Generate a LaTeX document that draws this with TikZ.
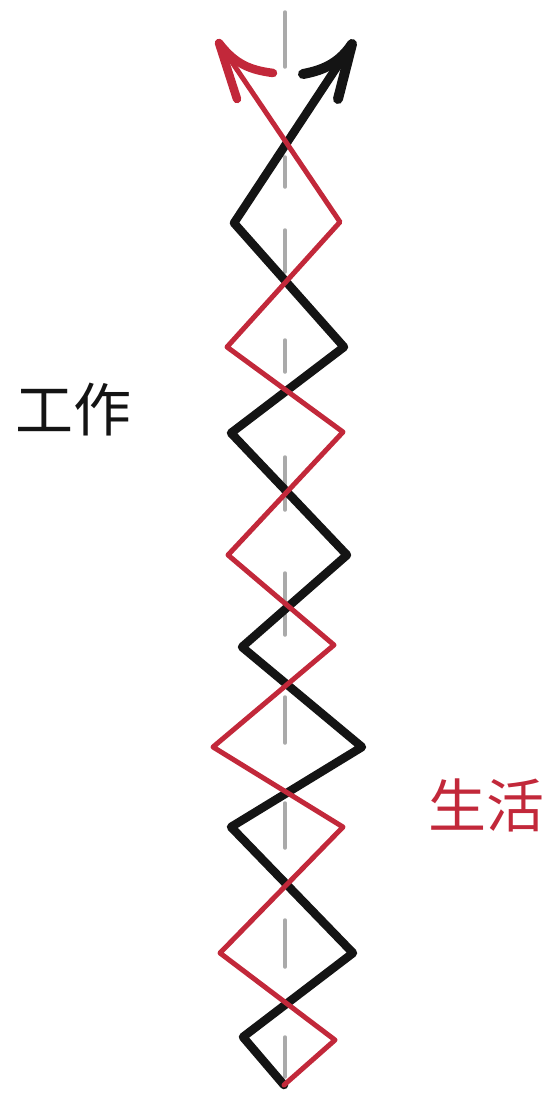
\documentclass[tikz,border=0pt]{standalone}
\usepackage{fontspec}
\newfontfamily\cjk{Noto Sans CJK SC}
\definecolor{lred}{RGB}{194,40,58}
\definecolor{lgray}{RGB}{170,170,170}
\definecolor{lblack}{RGB}{20,20,20}
\begin{document}
\begin{tikzpicture}[x=1pt,y=-1pt,
  blackline/.style={draw=lblack,line width=8.5pt,line join=round,line cap=round},
  redline/.style={draw=lred,line width=5pt,line join=round,line cap=round},
  blackhead/.style={draw=lblack,line width=10pt,line join=round,line cap=round},
  redhead/.style={draw=lred,line width=8.5pt,line join=round,line cap=round},
  axis/.style={draw=lgray,line width=3.5pt,line cap=round},
  label/.style={font=\cjk\fontsize{58}{64}\selectfont,inner sep=0pt}]
\useasboundingbox (0,0) rectangle (551,1095);
% dashed axis
\foreach \a/\b in {12/67,157/187,230/272,340/372,457/510,573/635,697/743,803/848,920/967,1037/1077}
  \draw[axis] (285,\a) -- (285,\b);
% black line vertices
\coordinate (b0) at (284,1085);
\coordinate (b1) at (243,1037);
\coordinate (b2) at (353,953);
\coordinate (b3) at (231,827);
\coordinate (b4) at (362,747);
\coordinate (b5) at (242,647);
\coordinate (b6) at (347,555);
\coordinate (b7) at (231,433);
\coordinate (b8) at (344,347);
\coordinate (b9) at (234,223);
\coordinate (bt) at (352,44);
\coordinate (bl) at (303,74);
\coordinate (bd) at (338,99);
% red line vertices
\coordinate (r0) at (284,1085);
\coordinate (r1) at (335,1040);
\coordinate (r2) at (220,953);
\coordinate (r3) at (343,827);
\coordinate (r4) at (213,747);
\coordinate (r5) at (334,645);
\coordinate (r6) at (228,555);
\coordinate (r7) at (343,432);
\coordinate (r8) at (227,347);
\coordinate (r9) at (340,222);
\coordinate (rt) at (219,43);
\coordinate (rl) at (273,73);
\coordinate (rd) at (237,99);
% black
\draw[blackline] (b0) -- (b1) -- (b2) -- (b3) -- (b4) -- (b5) -- (b6) -- (b7) -- (b8) -- (b9) -- (bt);
\draw[blackhead] (bl) .. controls (325,70) and (340,62) .. (bt) -- (bd);
% red
\draw[redline] (r0) -- (r1) -- (r2) -- (r3) -- (r4) -- (r5) -- (r6) -- (r7) -- (r8) -- (r9) -- (rt);
\draw[redhead] (rl) .. controls (250,70) and (235,64) .. (rt) -- (rd);
% labels
\node[label,text=lblack] (work) at (74,410) {工作};
\node[label,text=lred] (life) at (486,805) {生活};
\end{tikzpicture}
\end{document}
